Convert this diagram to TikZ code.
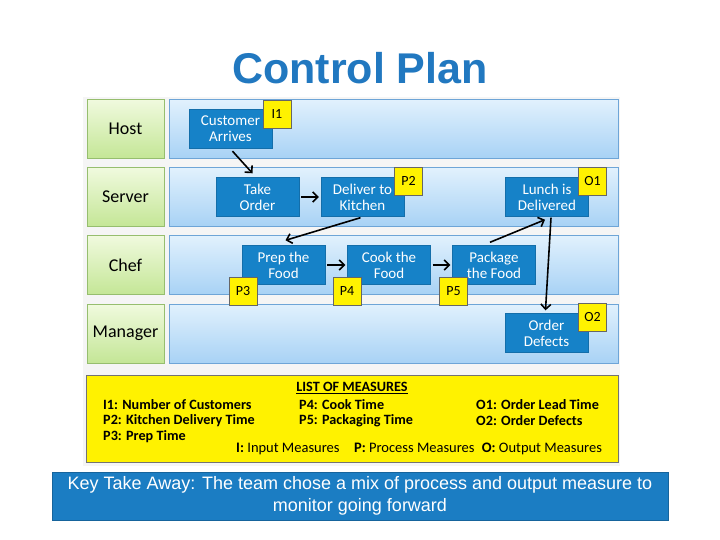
\documentclass[tikz,border=0pt]{standalone}
\usepackage{fontspec}
\setmainfont{Carlito}
\newfontfamily\arialfont{Liberation Sans}
\usetikzlibrary{calc,arrows.meta}

\definecolor{titleblue}{RGB}{33,120,192}
\definecolor{procblue}{RGB}{22,130,200}
\definecolor{laneedge}{RGB}{110,165,215}
\definecolor{lanetop}{RGB}{225,241,253}
\definecolor{lanebottom}{RGB}{168,210,245}
\definecolor{greenedge}{RGB}{150,190,110}
\definecolor{greentop}{RGB}{240,250,222}
\definecolor{greenbottom}{RGB}{196,230,150}
\definecolor{keyblue}{RGB}{27,125,195}

\tikzset{
  lanelabel/.style={draw=greenedge, top color=greentop, bottom color=greenbottom,
    minimum width=77pt, minimum height=59pt, inner sep=0pt, font=\fontsize{18}{20}\selectfont},
  lane/.style={draw=laneedge, top color=lanetop, bottom color=lanebottom,
    minimum width=449pt, minimum height=59pt, inner sep=0pt},
  procbox/.style={fill=procblue, draw=procblue!85!black, text=white, align=center,
    minimum width=83pt, minimum height=39pt, inner sep=1pt, font=\fontsize{15}{16}\selectfont},
  tag/.style={fill=yellow, draw=black!60, minimum width=28pt, minimum height=28pt,
    inner sep=0pt, font=\fontsize{14}{16}\selectfont},
  flow/.style={-{Straight Barb[length=5pt,width=10pt]}, line width=1.6pt},
  measure/.style={anchor=west, inner sep=0pt, font=\fontsize{14.2}{16}\selectfont\bfseries}
}

\begin{document}
\begin{tikzpicture}[x=1pt, y=-1pt]
			%%%%% START %%%%%
			\useasboundingbox[fill=white] (0, 0) rectangle (720, 540);
			
			\node[text=titleblue, font=\arialfont\fontsize{43}{48}\selectfont\bfseries] (title) at (360, 68) {Control Plan};
			
			\fill[black!4] (83, 97) rectangle (620, 466);
			
			% swim lanes
			\node[lanelabel] (host) at (125.5, 129) {Host};
			\node[lanelabel] (server) at (125.5, 197) {Server};
			\node[lanelabel] (chef) at (125.5, 265) {Chef};
			\node[lanelabel] (manager) at (125.5, 333.5) {Manager};
			
			\node[lane] (hostlane) at (393.5, 129) {};
			\node[lane] (serverlane) at (393.5, 197) {};
			\node[lane] (cheflane) at (393.5, 265) {};
			\node[lane] (managerlane) at (393.5, 333.5) {};
			
			% process steps
			\node[procbox] (cust) at (230.5, 128.5) {Customer\\Arrives};
			\node[procbox] (take) at (257.5, 197) {Take\\Order};
			\node[procbox] (deliver) at (362.5, 197) {Deliver to\\Kitchen};
			\node[procbox] (lunch) at (547, 197) {Lunch is\\Delivered};
			\node[procbox] (prep) at (283.5, 265) {Prep the\\Food};
			\node[procbox] (cook) at (389, 265) {Cook the\\Food};
			\node[procbox] (package) at (494, 265) {Package\\the Food};
			\node[procbox] (order) at (546.5, 333) {Order\\Defects};
			
			% measure tags
			\node[tag] (i1) at (277, 114) {I1};
			\node[tag] (p2) at (408.5, 181) {P2};
			\node[tag] (o1) at (592.5, 181) {O1};
			\node[tag] (p3) at (243, 291) {P3};
			\node[tag] (p4) at (347, 291) {P4};
			\node[tag] (p5) at (453.5, 291) {P5};
			\node[tag] (o2) at (592.5, 317.5) {O2};
			
			% flow
			\draw[flow] ($(cust.south)+(2, 3)$) -- ($(take.north)+(-5, -4)$);
			\draw[flow] ($(take.east)+(2, 0)$) -- ($(deliver.west)+(-2, 0)$);
			\draw[flow] ($(deliver.south)+(-2, 1)$) -- ($(prep.north)+(2, -5)$);
			\draw[flow] ($(prep.east)+(2, 0)$) -- ($(cook.west)+(-2, 0)$);
			\draw[flow] ($(cook.east)+(2, 0)$) -- ($(package.west)+(-2, 0)$);
			\draw[flow] ($(package.north)+(-4, -3)$) -- ($(lunch.south)+(-2, 3)$);
			\draw[flow] ($(lunch.south)+(4, 1)$) -- ($(order.north)+(-1, -3)$);
			
			% list of measures
			\node[fill=yellow, draw=black!55, minimum width=532pt, minimum height=87pt] (list) at (352, 418.5) {};
			\node[inner sep=0pt, font=\fontsize{14.2}{16}\selectfont\bfseries] (listhead) at (352, 388) {\underline{LIST OF MEASURES}};
			\node[measure] (mi1) at (103, 405) {I1: Number of Customers};
			\node[measure] (mp2) at (103, 421) {P2: Kitchen Delivery Time};
			\node[measure] (mp3) at (103, 437) {P3: Prep Time};
			\node[measure] (mp4) at (299, 405) {P4: Cook Time};
			\node[measure] (mp5) at (299, 421) {P5: Packaging Time};
			\node[measure] (mo1) at (476, 405) {O1: Order Lead Time};
			\node[measure] (mo2) at (476, 421) {O2: Order Defects};
			\node[measure, font=\fontsize{14.5}{16}\selectfont] (legend) at (236, 449)
			  {\textbf{I:} Input Measures\quad \textbf{P:} Process Measures\enspace \textbf{O:} Output Measures};
			
			% key take away
			\node[fill=keyblue, draw=keyblue!80!black, text=white, align=center, minimum width=616pt, minimum height=48pt,
			  font=\arialfont\fontsize{18}{22}\selectfont] (key) at (360, 496)
			  {Key Take Away: The team chose a mix of process and output measure to\\monitor going forward};
			
			%%%%% END %%%%%
\end{tikzpicture}
\end{document}
